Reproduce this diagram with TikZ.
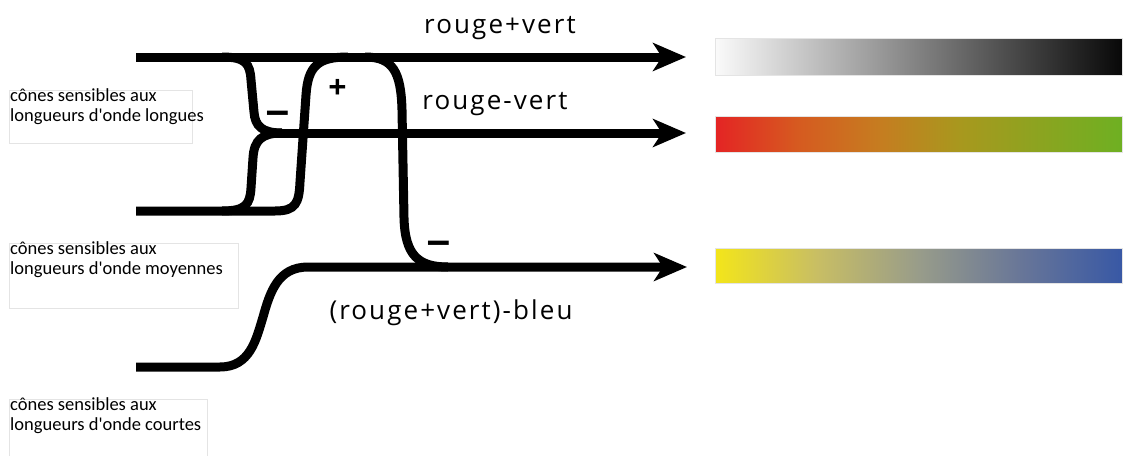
\documentclass[tikz,border=0pt]{standalone}
\usepackage{fontspec}
\setmainfont{PT Sans}
\newfontfamily\condfont{Carlito}
\newfontfamily\lblfont[LetterSpace=8]{Open Sans}
\newfontfamily\signfont{Open Sans Bold}
\usetikzlibrary{arrows.meta}
\definecolor{gA}{RGB}{250,250,250}
\definecolor{gB}{RGB}{8,8,8}
\definecolor{rg0}{RGB}{228,36,36}
\definecolor{rg1}{RGB}{214,90,32}
\definecolor{rg2}{RGB}{198,124,32}
\definecolor{rg3}{RGB}{168,152,30}
\definecolor{rg4}{RGB}{110,176,34}
\definecolor{yb0}{RGB}{243,229,26}
\definecolor{yb1}{RGB}{200,190,100}
\definecolor{yb2}{RGB}{152,156,138}
\definecolor{yb3}{RGB}{104,118,152}
\definecolor{yb4}{RGB}{56,88,165}
\definecolor{boxgray}{RGB}{228,228,228}
\pgfdeclarehorizontalshading{grayshade}{100bp}{color(0bp)=(gA); color(25bp)=(gA); color(75bp)=(gB); color(100bp)=(gB)}
\pgfdeclarehorizontalshading{rgshade}{100bp}{color(0bp)=(rg0); color(25bp)=(rg0); color(35bp)=(rg1); color(45bp)=(rg2); color(55bp)=(rg3); color(75bp)=(rg4); color(100bp)=(rg4)}
\pgfdeclarehorizontalshading{ybshade}{100bp}{color(0bp)=(yb0); color(25bp)=(yb0); color(37.5bp)=(yb1); color(50bp)=(yb2); color(62.5bp)=(yb3); color(75bp)=(yb4); color(100bp)=(yb4)}
\tikzset{
  wire/.style={line width=9pt},
  arr/.style={wire,-{Stealth[length=33pt,width=28pt,inset=9pt]}},
  mainlbl/.style={font=\lblfont\fontsize{26}{28}\selectfont, inner sep=0pt},
  sign/.style={font=\signfont\fontsize{32}{32}\selectfont, inner sep=0pt, anchor=base},
  minussign/.style={font=\signfont\fontsize{38}{38}\selectfont, inner sep=0pt, anchor=base},
  cbox/.style={draw=boxgray, line width=1pt, inner sep=0pt, anchor=north west},
  ctext/.style={font=\condfont\fontsize{18.5}{20}\selectfont, align=left, inner sep=0pt, anchor=north west},
  bar/.style={draw=boxgray, line width=1pt, inner sep=0pt, anchor=north west}
}
\begin{document}
\begin{tikzpicture}[x=1pt,y=-1pt]
\useasboundingbox (0,0) rectangle (1123,455);
% coordinates
\coordinate (Lstart) at (136,57);
\coordinate (Ltip) at (686,57);
\coordinate (RVstart) at (276,133);
\coordinate (RVtip) at (686,133);
\coordinate (Mstart) at (136,211);
\coordinate (Sstart) at (136,367);
\coordinate (Btip) at (687,267);
% lines
\draw[arr] (Lstart) -- (Ltip);
\draw[arr] (RVstart) -- (RVtip);
\draw[wire] (222,57) .. controls (246,57) and (250,64) .. (251,80) -- (254,112) .. controls (255,126) and (262,133) .. (282,133);
\draw[wire] (222,211) .. controls (246,211) and (250,204) .. (251,188) -- (253,158) .. controls (254,140) and (262,133) .. (282,133);
\draw[wire] (Mstart) -- (275,211) .. controls (296,211) and (299,203) .. (300,182) -- (306,95) .. controls (308,66) and (318,57) .. (348,57);
\draw[wire] (365,57) .. controls (393,57) and (401,72) .. (402,110) -- (404,218) .. controls (405,255) and (418,267) .. (448,267);
\draw[arr] (Sstart) -- (220,367) .. controls (250,367) and (256,340) .. (263,317) .. controls (270,292) and (278,267) .. (308,267) -- (Btip);
% signs
\node[sign] (plus) at (337.5,98) {+};
\node[minussign] (minus1) at (278,123) {\scalebox{1.3}[1]{–}};
\node[minussign] (minus2) at (438.5,253) {\scalebox{1.3}[1]{–}};
% labels
\node[mainlbl] (l1) at (500,28) {rouge+vert};
\node[mainlbl] (l2) at (495,104) {rouge-vert};
\node[mainlbl] (l3) at (451,313) {(rouge+vert)-bleu};
% cone boxes
\node[cbox, minimum width=183pt, minimum height=53pt] (b1) at (9,90) {};
\node[ctext] (t1) at ([xshift=1pt,yshift=1.5pt]b1.north west) {cônes sensibles aux\\longueurs d'onde longues};
\node[cbox, minimum width=229pt, minimum height=65pt] (b2) at (9,243) {};
\node[ctext] (t2) at ([xshift=1pt,yshift=1.5pt]b2.north west) {cônes sensibles aux\\longueurs d'onde moyennes};
\node[cbox, minimum width=198pt, minimum height=65pt] (b3) at (9,399) {};
\node[ctext] (t3) at ([xshift=1pt,yshift=1.5pt]b3.north west) {cônes sensibles aux\\longueurs d'onde courtes};
% bars
\node[bar, shading=grayshade, minimum width=407pt, minimum height=37pt] (g1) at (715,38) {};
\node[bar, shading=rgshade, minimum width=407pt, minimum height=36pt] (g2) at (715,116) {};
\node[bar, shading=ybshade, minimum width=407pt, minimum height=35pt] (g3) at (715,248) {};
\end{tikzpicture}
\end{document}
